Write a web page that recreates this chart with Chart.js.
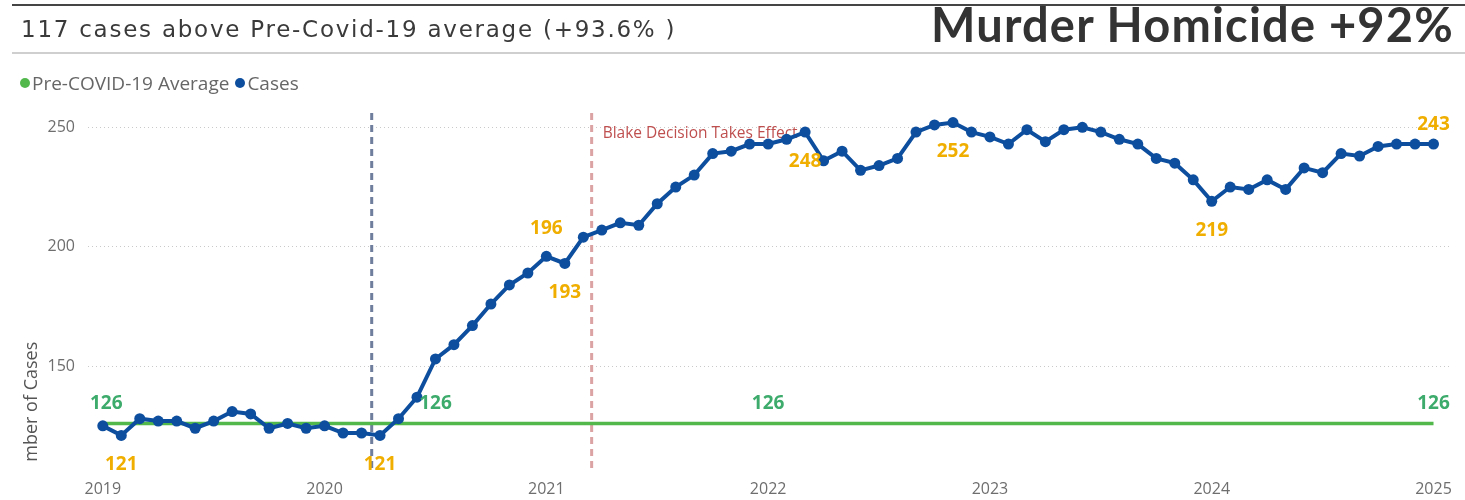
<!DOCTYPE html>
<html>
<head>
<meta charset="utf-8">
<script src="https://cdn.jsdelivr.net/npm/chart.js@4.4.1/dist/chart.umd.min.js"></script>
<style>
  html, body { margin: 0; padding: 0; background: #fff; }
  #wrap { position: relative; width: 1465px; height: 500px; overflow: hidden; }
  #chart { position: absolute; left: 0; top: 0; }
  .rule { position: absolute; left: 12px; right: 0; }
  #topRule { top: 4px; height: 2px; background: #454545; }
  #midRule { top: 52px; height: 2px; background: #cfcfcf; }
  #subTitle { position: absolute; left: 21px; top: 18px; font: 23px/23px "DejaVu Sans", sans-serif;
              letter-spacing: 1.75px; color: #3a3a3a; white-space: nowrap; }
  #bigTitle { position: absolute; right: 11px; top: 1px; font: 700 47px/47px Lato, "Open Sans", sans-serif;
              letter-spacing: 1.2px; color: #333; white-space: nowrap; }
  #legend { position: absolute; left: 20px; top: 72px; font: 19px/22px "Open Sans", sans-serif; color: #666;
            display: flex; align-items: center; white-space: nowrap; }
  #legend .dot { display: inline-block; width: 10px; height: 10px; border-radius: 50%; margin-right: 2px; }
  #legend .item { display: flex; align-items: center; margin-right: 6px; }
</style>
</head>
<body>
<div id="wrap">
  <canvas id="chart" width="1465" height="500"></canvas>
  <div class="rule" id="topRule"></div>
  <div class="rule" id="midRule"></div>
  <div id="subTitle">117 cases above Pre-Covid-19 average (+93.6% )</div>
  <div id="bigTitle">Murder Homicide +92%</div>
  <div id="legend"></div>
</div>
<script>
/* ---------- data (monthly, Jan 2019 -> Jan 2025) ---------- */
const yearTicks = ['2019', '2020', '2021', '2022', '2023', '2024', '2025'];

const cases = [
  125, 121, 128, 127, 127, 124, 127, 131, 130, 124, 126, 124,   // 2019
  125, 122, 122, 121, 128, 137, 153, 159, 167, 176, 184, 189,   // 2020
  196, 193, 204, 207, 210, 209, 218, 225, 230, 239, 240, 243,   // 2021
  243, 245, 248, 236, 240, 232, 234, 237, 248, 251, 252, 248,   // 2022
  246, 243, 249, 244, 249, 250, 248, 245, 243, 237, 235, 228,   // 2023
  219, 225, 224, 228, 224, 233, 231, 239, 238, 242, 243, 243,   // 2024
  243                                                           // 2025
];

const preCovidAvg = 126;
const avgSpan = [0, 72];                 // month index where the average line starts / ends

// labelled points (month index)
const caseLabelIdx   = [1, 15, 24, 25, 38, 46, 60, 72];
const caseLabelAbove = [24, 72];
const avgLabelIdx    = [0, 18, 36, 72];

// event markers (month index, mid-month)
const eventIdx   = [14.55, 26.45];
const eventText  = ['', 'Blake Decision Takes Effect'];
const eventColor = ['#6f7e9c', '#dba3a3'];

const yTicks = [150, 200, 250];

/* ---------- colours ---------- */
const BLUE = '#0d4e9e', GREEN = '#52b84c', GREEN_TXT = '#3dab6b', ORANGE = '#efae00';

/* ---------- legend (html) ---------- */
const legendItems = [['Pre-COVID-19 Average', GREEN], ['Cases', BLUE]];
document.getElementById('legend').innerHTML = legendItems
  .map(([t, c]) => `<span class="item"><span class="dot" style="background:${c}"></span>${t}</span>`).join('');

/* ---------- plugin: event lines, labels, clipped axis title ---------- */
const extras = {
  id: 'extras',
  beforeDatasetsDraw(chart) {
    const { ctx, chartArea: a, scales: { x } } = chart;
    ctx.save();
    eventIdx.forEach((v, i) => {
      const px = x.getPixelForValue(v);
      ctx.strokeStyle = eventColor[i];
      ctx.lineWidth = 3;
      ctx.setLineDash([7, 5]);
      ctx.beginPath(); ctx.moveTo(px, a.top); ctx.lineTo(px, a.bottom - 4); ctx.stroke();
      if (eventText[i]) {
        ctx.setLineDash([]);
        ctx.fillStyle = '#bf4f4f';
        ctx.font = '15.5px "Open Sans", sans-serif';
        ctx.textAlign = 'left'; ctx.textBaseline = 'middle';
        ctx.fillText(eventText[i], px + 11, 134);
      }
    });
    ctx.restore();
  },
  afterDatasetsDraw(chart) {
    const { ctx, chartArea: a, scales: { x, y } } = chart;
    ctx.save();
    ctx.font = 'bold 19px "Open Sans", sans-serif';
    ctx.textAlign = 'center'; ctx.textBaseline = 'middle';
    const put = (txt, px, py, col) => {
      const w = ctx.measureText(txt).width;
      px = Math.min(Math.max(px, a.left + w / 2 + 2), a.right - w / 2);
      py = Math.max(py, a.top + 12);
      ctx.fillStyle = col; ctx.fillText(txt, px, py);
    };
    avgLabelIdx.forEach(i => put(String(preCovidAvg), x.getPixelForValue(i), y.getPixelForValue(preCovidAvg) - 20, GREEN_TXT));
    caseLabelIdx.forEach(i => {
      const up = caseLabelAbove.includes(i);
      put(String(cases[i]), x.getPixelForValue(i), y.getPixelForValue(cases[i]) + (up ? -28 : 29), ORANGE);
    });
    ctx.restore();
  },
  afterDraw(chart) {
    const { ctx } = chart;
    ctx.save();
    ctx.beginPath(); ctx.rect(0, 0, 80, 463); ctx.clip();
    ctx.translate(32, 414); ctx.rotate(-Math.PI / 2);
    ctx.fillStyle = '#555'; ctx.font = '18px "Open Sans", sans-serif';
    ctx.textAlign = 'center'; ctx.textBaseline = 'middle';
    ctx.fillText('Number of Cases', 0, 0);
    ctx.restore();
  }
};

/* ---------- chart ---------- */
const tickFont = { family: '"Open Sans", sans-serif', size: 16 };

new Chart(document.getElementById('chart'), {
  type: 'line',
  data: {
    datasets: [
      {
        label: 'Cases',
        data: cases.map((v, i) => ({ x: i, y: v })),
        borderColor: BLUE, backgroundColor: BLUE,
        borderWidth: 4, pointRadius: 5.5, pointBorderWidth: 0,
        pointBackgroundColor: BLUE, tension: 0, order: 0
      },
      {
        label: 'Pre-COVID-19 Average',
        data: avgSpan.map(i => ({ x: i, y: preCovidAvg })),
        borderColor: GREEN, borderWidth: 3.5, pointRadius: 0, tension: 0, order: 1
      }
    ]
  },
  options: {
    responsive: false, animation: false, events: [],
    layout: { padding: { top: 113, right: 13, left: 0, bottom: 0 } },
    plugins: { legend: { display: false }, tooltip: { enabled: false } },
    scales: {
      x: {
        type: 'linear', min: -0.8, max: 73,
        afterFit: s => { s.height = 24; },
        afterBuildTicks: s => { s.ticks = yearTicks.map((t, k) => ({ value: k * 12 })); },
        ticks: { callback: v => yearTicks[v / 12], font: tickFont, color: '#6e6e6e', padding: 4,
                 autoSkip: false, maxRotation: 0 },
        grid: { display: false, drawTicks: false }, border: { display: false }
      },
      y: {
        min: 104, max: 256,
        afterFit: s => { s.width = 88; },
        afterBuildTicks: s => { s.ticks = yTicks.map(v => ({ value: v })); },
        ticks: { font: tickFont, color: '#6e6e6e', padding: 13 },
        grid: { color: '#c9c9c9', borderDash: [1, 3], drawTicks: false, lineWidth: 1 },
        border: { display: false, dash: [1, 3] }
      }
    }
  },
  plugins: [extras]
});
</script>
</body>
</html>
